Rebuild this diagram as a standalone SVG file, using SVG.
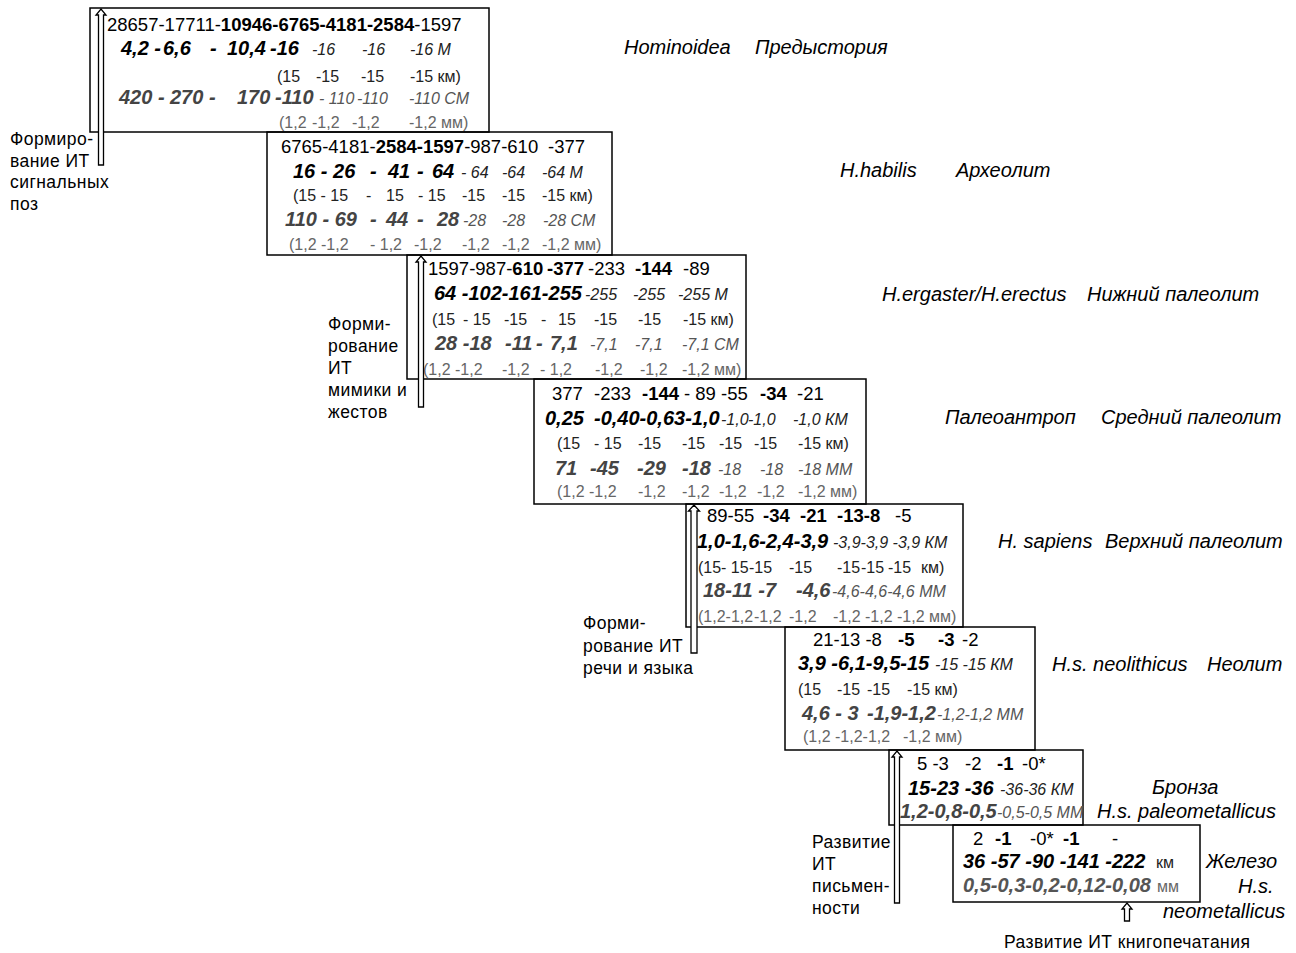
<svg xmlns="http://www.w3.org/2000/svg" width="1296" height="953" viewBox="0 0 1296 953">
<style>
text{font-family:"Liberation Sans",Arial,sans-serif}
.bx{fill:none;stroke:#000;stroke-width:1.5}
.t1{font-size:18.5px;fill:#000}
.b{font-weight:bold}
.bi{font-size:20px;font-weight:bold;font-style:italic;fill:#000}
.si{font-size:16px;font-style:italic;fill:#222}
.p{font-size:16px;fill:#222}
.gbi{font-size:20px;font-weight:bold;font-style:italic;fill:#444}
.gsi{font-size:16px;font-style:italic;fill:#555}
.gp{font-size:16px;fill:#666}
.gi{font-size:20px;font-style:italic;font-weight:bold;fill:#555}
.lab{font-size:20px;font-style:italic;fill:#000}
.side{font-size:17.5px;fill:#000;letter-spacing:0.45px}
.arr{fill:#fff;stroke:#000;stroke-width:1.3}
</style>
<rect width="1296" height="953" fill="#fff"/>

<g id="box1">
<rect class="bx" x="90" y="8" width="399" height="124"/>
<text class="t1" x="107" y="31">28657-17711-<tspan class="b">10946-6765-4181-2584</tspan>-1597</text>
<text class="bi" y="55"><tspan x="121">4,2 -</tspan><tspan x="163">6,6</tspan><tspan x="210">-</tspan><tspan x="227">10,4</tspan><tspan x="270">-16</tspan></text>
<text class="si" y="55"><tspan x="312">-16</tspan><tspan x="362">-16</tspan><tspan x="410">-16 M</tspan></text>
<text class="p" y="82"><tspan x="277">(15</tspan><tspan x="316">-15</tspan><tspan x="361">-15</tspan><tspan x="410">-15 км)</tspan></text>
<text class="gbi" y="104"><tspan x="119">420 -</tspan><tspan x="170">270 -</tspan><tspan x="237">170</tspan><tspan x="275">-110</tspan></text>
<text class="gsi" y="104"><tspan x="319">- 110</tspan><tspan x="357">-110</tspan><tspan x="409">-110 СМ</tspan></text>
<text class="gp" y="128"><tspan x="279">(1,2</tspan><tspan x="312">-1,2</tspan><tspan x="352">-1,2</tspan><tspan x="409">-1,2 мм)</tspan></text>
</g>

<g id="box2">
<rect class="bx" x="267" y="132" width="345" height="123"/>
<text class="t1" y="153"><tspan x="281">6765-4181-</tspan><tspan class="b">2584-1597</tspan>-987-610<tspan x="548">-377</tspan></text>
<text class="bi" y="178"><tspan x="293">16 - 26</tspan><tspan x="370">-</tspan><tspan x="388">41</tspan><tspan x="417">-</tspan><tspan x="432">64</tspan></text>
<text class="si" y="178"><tspan x="461">- 64</tspan><tspan x="502">-64</tspan><tspan x="542">-64 M</tspan></text>
<text class="p" y="201"><tspan x="293">(15 - 15</tspan><tspan x="366">-</tspan><tspan x="386">15</tspan><tspan x="418">- 15</tspan><tspan x="462">-15</tspan><tspan x="502">-15</tspan><tspan x="542">-15 км)</tspan></text>
<text class="gbi" y="226"><tspan x="285">110 - 69</tspan><tspan x="370">-</tspan><tspan x="386">44</tspan><tspan x="417">-</tspan><tspan x="437">28</tspan></text>
<text class="gsi" y="226"><tspan x="463">-28</tspan><tspan x="502">-28</tspan><tspan x="543">-28 СМ</tspan></text>
<text class="gp" y="250"><tspan x="289">(1,2 -1,2</tspan><tspan x="370">- 1,2</tspan><tspan x="414">-1,2</tspan><tspan x="462">-1,2</tspan><tspan x="502">-1,2</tspan><tspan x="542">-1,2 мм)</tspan></text>
</g>

<g id="box3">
<rect class="bx" x="407" y="255" width="339" height="124"/>
<text class="t1" y="275"><tspan x="428">1597-987-</tspan><tspan class="b">610</tspan><tspan class="b" x="547">-377</tspan><tspan x="588">-233</tspan><tspan class="b" x="635">-144</tspan><tspan x="683">-89</tspan></text>
<text class="bi" x="434" y="300">64 -102-161-255</text>
<text class="si" y="300"><tspan x="585">-255</tspan><tspan x="633">-255</tspan><tspan x="678">-255 M</tspan></text>
<text class="p" y="325"><tspan x="432">(15</tspan><tspan x="463">- 15</tspan><tspan x="504">-15</tspan><tspan x="541">-</tspan><tspan x="558">15</tspan><tspan x="594">-15</tspan><tspan x="638">-15</tspan><tspan x="683">-15 км)</tspan></text>
<text class="gbi" y="350"><tspan x="435">28 -18</tspan><tspan x="505">-11</tspan><tspan x="536">-</tspan><tspan x="550">7,1</tspan></text>
<text class="gsi" y="350"><tspan x="590">-7,1</tspan><tspan x="635">-7,1</tspan><tspan x="682">-7,1 СМ</tspan></text>
<text class="gp" y="375"><tspan x="423">(1,2 -1,2</tspan><tspan x="502">-1,2</tspan><tspan x="540">- 1,2</tspan><tspan x="595">-1,2</tspan><tspan x="640">-1,2</tspan><tspan x="682">-1,2 мм)</tspan></text>
</g>

<g id="box4">
<rect class="bx" x="534" y="379" width="332" height="125"/>
<text class="t1" y="400"><tspan x="552">377</tspan><tspan x="594">-233</tspan><tspan class="b" x="642">-144</tspan><tspan x="684">- 89 -55</tspan><tspan class="b" x="760">-34</tspan><tspan x="797">-21</tspan></text>
<text class="bi" y="425"><tspan x="545">0,25</tspan><tspan x="594">-0,40-0,63-1,0</tspan></text>
<text class="si" y="425"><tspan x="721">-1,0</tspan><tspan x="748">-1,0</tspan><tspan x="793">-1,0 КМ</tspan></text>
<text class="p" y="449"><tspan x="557">(15</tspan><tspan x="594">- 15</tspan><tspan x="638">-15</tspan><tspan x="682">-15</tspan><tspan x="719">-15</tspan><tspan x="754">-15</tspan><tspan x="798">-15 км)</tspan></text>
<text class="gbi" y="475"><tspan x="555">71</tspan><tspan x="590">-45</tspan><tspan x="637">-29</tspan><tspan x="682">-18</tspan></text>
<text class="gsi" y="475"><tspan x="718">-18</tspan><tspan x="760">-18</tspan><tspan x="798">-18 ММ</tspan></text>
<text class="gp" y="497"><tspan x="557">(1,2 -1,2</tspan><tspan x="638">-1,2</tspan><tspan x="682">-1,2</tspan><tspan x="719">-1,2</tspan><tspan x="757">-1,2</tspan><tspan x="798">-1,2 мм)</tspan></text>
</g>

<g id="box5">
<rect class="bx" x="686" y="504" width="277" height="123"/>
<text class="t1" y="522"><tspan x="707">89-55</tspan><tspan class="b" x="763">-34</tspan><tspan class="b" x="800">-21</tspan><tspan class="b" x="837">-13-8</tspan><tspan x="895">-5</tspan></text>
<text class="bi" x="697" y="548">1,0-1,6-2,4-3,9</text>
<text class="si" x="833" y="548">-3,9-3,9 -3,9 КМ</text>
<text class="p" y="573"><tspan x="698">(15</tspan><tspan x="721">- 15</tspan><tspan x="749">-15</tspan><tspan x="789">-15</tspan><tspan x="837">-15</tspan><tspan x="861">-15</tspan><tspan x="888">-15</tspan><tspan x="921">км)</tspan></text>
<text class="gbi" y="597"><tspan x="703">18-11 -7</tspan><tspan x="796">-4,6</tspan></text>
<text class="gsi" x="832" y="597">-4,6-4,6-4,6 ММ</text>
<text class="gp" y="622"><tspan x="698">(1,2-1,2</tspan><tspan x="754">-1,2</tspan><tspan x="789">-1,2</tspan><tspan x="833">-1,2 -1,2 -1,2 мм)</tspan></text>
</g>

<g id="box6">
<rect class="bx" x="785" y="627" width="250" height="123"/>
<text class="t1" y="646"><tspan x="813">21-13 -8</tspan><tspan class="b" x="898">-5</tspan><tspan class="b" x="938">-3</tspan><tspan x="962">-2</tspan></text>
<text class="bi" x="798" y="670">3,9 -6,1-9,5-15</text>
<text class="si" x="935" y="670">-15 -15 КМ</text>
<text class="p" y="695"><tspan x="798">(15</tspan><tspan x="837">-15</tspan><tspan x="867">-15</tspan><tspan x="907">-15 км)</tspan></text>
<text class="gbi" y="720"><tspan x="802">4,6 - 3</tspan><tspan x="867">-1,9-1,2</tspan></text>
<text class="gsi" x="937" y="720">-1,2-1,2 ММ</text>
<text class="gp" y="742"><tspan x="803">(1,2 -1,2-1,2</tspan><tspan x="903">-1,2 мм)</tspan></text>
</g>

<g id="box7">
<rect class="bx" x="889" y="750" width="194" height="75"/>
<text class="t1" y="770"><tspan x="917">5 -3</tspan><tspan x="965">-2</tspan><tspan class="b" x="997">-1</tspan><tspan x="1022">-0*</tspan></text>
<text class="bi" x="908" y="795">15-23 -36</text>
<text class="si" x="1000" y="795">-36-36 КМ</text>
<text class="gbi" x="900" y="818">1,2-0,8-0,5</text>
<text class="gsi" x="997" y="818">-0,5-0,5 ММ</text>
</g>

<g id="box8">
<rect class="bx" x="953" y="825" width="247" height="77"/>
<text class="t1" y="845"><tspan x="973">2</tspan><tspan class="b" x="995">-1</tspan><tspan x="1030">-0*</tspan><tspan class="b" x="1063">-1</tspan><tspan x="1112">-</tspan></text>
<text class="bi" x="963" y="868">36 -57 -90 -141 -222</text>
<text class="p" x="1156" y="868">км</text>
<text class="gi" x="963" y="892">0,5-0,3-0,2-0,12-0,08</text>
<text class="gp" x="1157" y="892">мм</text>
</g>

<g id="labels">
<text class="lab" y="54"><tspan x="624">Hominoidea</tspan><tspan x="755">Предыстория</tspan></text>
<text class="lab" y="177"><tspan x="840">H.habilis</tspan><tspan x="956">Археолит</tspan></text>
<text class="lab" y="301"><tspan x="882">H.ergaster/H.erectus</tspan><tspan x="1087">Нижний палеолит</tspan></text>
<text class="lab" y="424"><tspan x="945">Палеоантроп</tspan><tspan x="1101">Средний палеолит</tspan></text>
<text class="lab" y="548"><tspan x="998">H. sapiens</tspan><tspan x="1105">Верхний палеолит</tspan></text>
<text class="lab" y="671"><tspan x="1052">H.s. neolithicus</tspan><tspan x="1207">Неолит</tspan></text>
<text class="lab" x="1152" y="794">Бронза</text>
<text class="lab" x="1097" y="818">H.s. paleometallicus</text>
<text class="lab" x="1206" y="868">Железо</text>
<text class="lab" x="1238" y="893">H.s.</text>
<text class="lab" x="1163" y="918">neometallicus</text>
</g>

<g id="connectors">
<path class="arr" d="M98.5,165 V15 H96 L101,9 L106,15 H103.5 V165 Z"/>
<path class="arr" d="M418.5,407 V262 H416 L421,256 L426,262 H423.5 V407 Z"/>
<path class="arr" d="M691,653 V511 H688.5 L694,505 L699.5,511 H697 V653 Z"/>
<path class="arr" d="M894.5,903 V757 H892 L897,751 L902,757 H899.5 V903 Z"/>
<path class="arr" d="M1124.5,921 V909 H1122 L1127,903 L1132,909 H1129.5 V921 Z"/>
</g>

<g id="notes">
<text class="side"><tspan y="145" x="10">Формиро-</tspan><tspan y="167" x="10">вание  ИТ</tspan><tspan y="188" x="10">сигнальных</tspan><tspan y="210" x="10">поз</tspan></text>
<text class="side"><tspan y="330" x="328">Форми-</tspan><tspan y="352" x="328">рование</tspan><tspan y="374" x="328">ИТ</tspan><tspan y="396" x="328">мимики и</tspan><tspan y="418" x="328">жестов</tspan></text>
<text class="side"><tspan y="629" x="583">Форми-</tspan><tspan y="652" x="583">рование  ИТ</tspan><tspan y="674" x="583">речи и языка</tspan></text>
<text class="side"><tspan y="848" x="812">Развитие</tspan><tspan y="870" x="812">ИТ</tspan><tspan y="892" x="812">письмен-</tspan><tspan y="914" x="812">ности</tspan></text>
<text class="side" x="1004" y="948">Развитие ИТ книгопечатания</text>
</g>
</svg>
